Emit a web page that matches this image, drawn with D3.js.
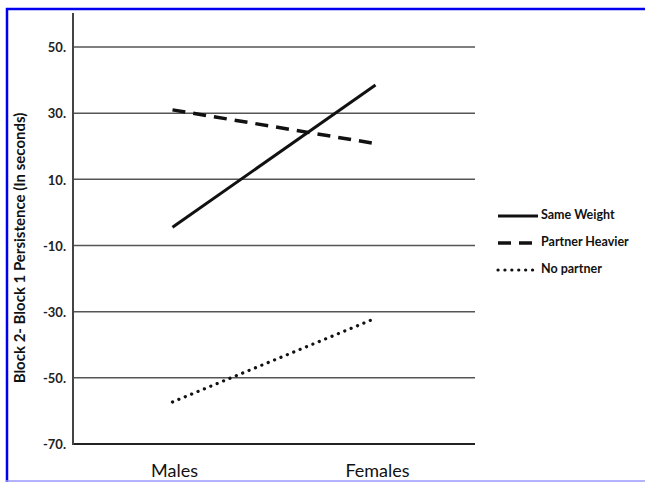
<!DOCTYPE html>
<html><head><meta charset="utf-8">
<script src="https://cdn.jsdelivr.net/npm/d3@7"></script>
<style>body{margin:0;background:#fff;} svg{display:block;}</style>
</head><body>
<svg id="c" width="645" height="482"></svg>
<script>
const categories = ["Males", "Females"];
const seriesNames = ["Same Weight", "Partner Heavier", "No partner"];
const sameWeight = [-4.5, 38.5];
const partnerHeavier = [31, 20.8];
const noPartner = [-57.3, -32];
const yTicks = [50, 30, 10, -10, -30, -50, -70];
const yTitle = "Block 2- Block 1 Persistence (In seconds)";

const series = [
  {name: seriesNames[0], values: sameWeight, dash: null, width: 3, cap: "butt"},
  {name: seriesNames[1], values: partnerHeavier, dash: "13,8", width: 3.5, cap: "butt"},
  {name: seriesNames[2], values: noPartner, dash: "0.1,6.8", width: 3.2, cap: "round"}
];

const svg = d3.select("#c");
const font = "Lato, 'Open Sans', sans-serif";
const plot = {left: 73, right: 475, top: 13};
const y = d3.scaleLinear().domain([-70, 50]).range([444, 47]);
const x = d3.scalePoint().domain(categories).range([plot.left, plot.right]).padding(0.49);

// border
svg.append("line").attr("x1", 7).attr("x2", 7).attr("y1", 8).attr("y2", 482).attr("stroke", "#0000ee").attr("stroke-width", 2.5);
svg.append("line").attr("x1", 6).attr("x2", 645).attr("y1", 9).attr("y2", 9).attr("stroke", "#0000ee").attr("stroke-width", 2.5);
svg.append("line").attr("x1", 6).attr("x2", 645).attr("y1", 481).attr("y2", 481).attr("stroke", "#9999ff").attr("stroke-width", 1.5);

// gridlines
svg.append("g").selectAll("line").data(yTicks).join("line")
  .attr("x1", plot.left).attr("x2", plot.right)
  .attr("y1", d => y(d)).attr("y2", d => y(d))
  .attr("stroke", d => d === -70 ? "#222" : "#555")
  .attr("stroke-width", d => d === -70 ? 2.2 : 1.5);

// y axis line
svg.append("line").attr("x1", plot.left).attr("x2", plot.left)
  .attr("y1", plot.top).attr("y2", y(-70) + 1)
  .attr("stroke", "#444").attr("stroke-width", 2);

// tick labels
svg.append("g").selectAll("text").data(yTicks).join("text")
  .attr("x", 66).attr("y", d => y(d) + 2)
  .attr("text-anchor", "end").attr("dominant-baseline", "middle")
  .attr("font-family", font).attr("font-weight", "bold").attr("font-size", 13)
  .attr("fill", "#222").text(d => d + ".");

// category labels
svg.append("g").selectAll("text").data(categories).join("text")
  .attr("x", d => x(d) + 2).attr("y", 477)
  .attr("text-anchor", "middle")
  .attr("font-family", font).attr("font-size", 18).attr("fill", "#111")
  .text(d => d);

// y title
svg.append("text").attr("transform", "translate(25,248) rotate(-90)")
  .attr("text-anchor", "middle")
  .attr("font-family", font).attr("font-weight", "bold").attr("font-size", 15)
  .attr("fill", "#111").text(yTitle);

// lines
const line = d3.line().x((d, i) => x(categories[i])).y(d => y(d));
svg.append("g").selectAll("path").data(series).join("path")
  .attr("d", d => line(d.values))
  .attr("fill", "none").attr("stroke", "#111")
  .attr("stroke-width", d => d.width)
  .attr("stroke-dasharray", d => d.dash)
  .attr("stroke-linecap", d => d.cap);

// legend
const legY = [216, 243, 270];
const leg = svg.append("g").selectAll("g").data(series).join("g")
  .attr("transform", (d, i) => `translate(498,${legY[i]})`);
leg.append("line").attr("x1", 0).attr("x2", 40).attr("y1", 0).attr("y2", 0)
  .attr("stroke", "#111").attr("stroke-width", d => d.width)
  .attr("stroke-dasharray", d => d.dash).attr("stroke-linecap", d => d.cap);
leg.append("text").attr("x", 43).attr("y", 0).attr("dominant-baseline", "middle")
  .attr("font-family", font).attr("font-weight", "bold").attr("font-size", 12.5)
  .attr("fill", "#111").text(d => d.name);
</script>
</body></html>
